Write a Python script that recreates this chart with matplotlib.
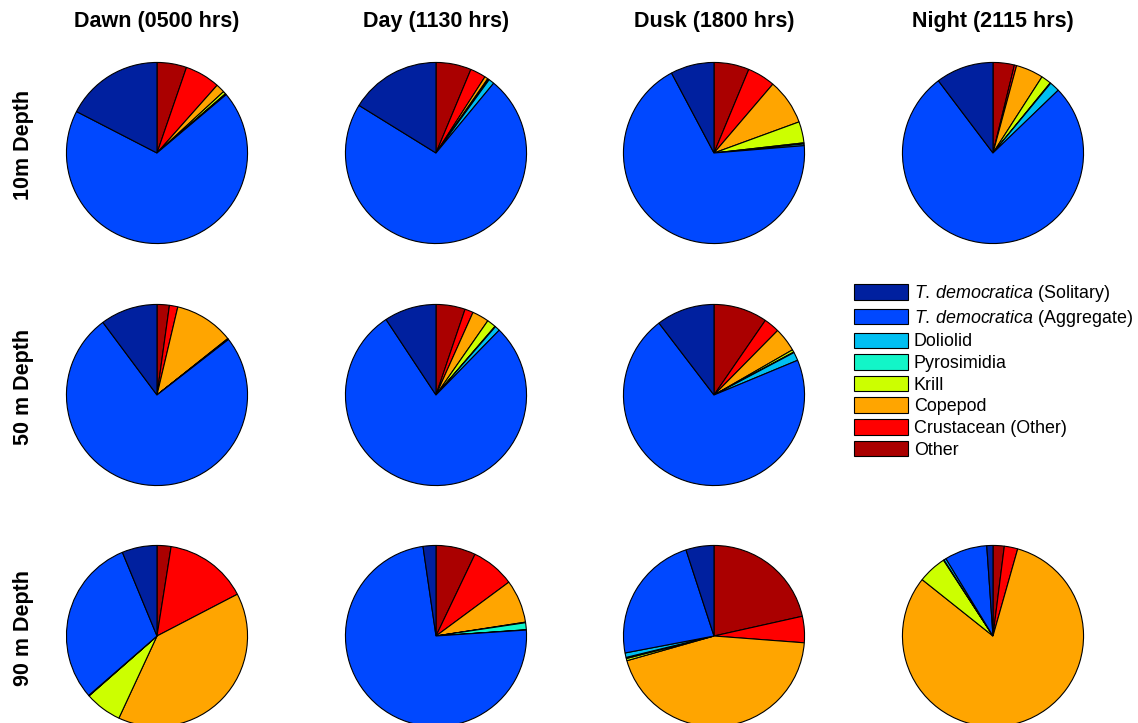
import matplotlib.pyplot as plt
from matplotlib.patches import Patch

plt.rcParams['font.family'] = ['Liberation Sans', 'DejaVu Sans']
plt.rcParams['mathtext.fontset'] = 'custom'
plt.rcParams['mathtext.it'] = 'Liberation Sans:italic'
plt.rcParams['mathtext.rm'] = 'Liberation Sans'

times = ['Dawn (0500 hrs)', 'Day (1130 hrs)', 'Dusk (1800 hrs)', 'Night (2115 hrs)']
depths = ['10m Depth', '50 m Depth', '90 m Depth']

# legend order (top to bottom)
groups = [r'$\it{T.\,democratica}$ (Solitary)', r'$\it{T.\,democratica}$ (Aggregate)',
          'Doliolid', 'Pyrosimidia', 'Krill', 'Copepod', 'Crustacean (Other)', 'Other']
colors = ['#00209f', '#0048ff', '#00bff2', '#12f5c8', '#ccff00', '#ffa500', '#ff0000', '#aa0000']

# percent of diet, in legend order: Solitary, Aggregate, Doliolid, Pyrosimidia, Krill, Copepod, Crustacean, Other
dawn_10 = [17.5, 69.0, 0.1, 0.1, 0.5, 1.6, 6.3, 5.3]
day_10 = [16.2, 72.9, 1.0, 0.1, 0.2, 0.6, 2.8, 6.3]
dusk_10 = [7.8, 68.8, 0.3, 0.2, 3.8, 8.2, 5.0, 6.3]
night_10 = [10.3, 76.9, 1.8, 0.1, 1.8, 4.9, 0.4, 3.8]

dawn_50 = [10.2, 75.4, 0.05, 0.05, 0.1, 10.6, 1.5, 2.2]
day_50 = [9.3, 78.4, 0.9, 0.1, 1.6, 3.0, 1.5, 5.2]
dusk_50 = [10.4, 70.9, 1.5, 0.1, 0.45, 4.3, 2.8, 9.6]

dawn_90 = [6.25, 30.2, 0.05, 0.05, 6.6, 39.6, 14.9, 2.5]
day_90 = [2.3, 73.9, 0.05, 1.25, 0.1, 7.7, 7.8, 7.1]
dusk_90 = [5.0, 23.0, 0.8, 0.2, 0.4, 44.4, 4.7, 21.5]
night_90 = [1.1, 7.6, 0.4, 0.1, 5.1, 81.3, 2.4, 2.0]

panels = [[dawn_10, day_10, dusk_10, night_10],
          [dawn_50, day_50, dusk_50, None],
          [dawn_90, day_90, dusk_90, night_90]]

W, H = 1138, 723
fig = plt.figure(figsize=(W / 100, H / 100), dpi=100)

cx = [157, 436, 714, 993]
cy = [153, 395, 636]
r = 91

for i, row in enumerate(panels):
    for j, vals in enumerate(row):
        if vals is None:
            continue
        ax = fig.add_axes([(cx[j] - r) / W, 1 - (cy[i] + r) / H, 2 * r / W, 2 * r / H])
        # wedges run clockwise from 12 o'clock: Other first, Solitary last
        ax.pie(vals[::-1], colors=colors[::-1], startangle=90, counterclock=False,
               wedgeprops=dict(edgecolor='black', linewidth=0.8))
        ax.set_xlim(-1.005, 1.005)
        ax.set_ylim(-1.005, 1.005)
        ax.set_aspect('equal')
        ax.axis('off')

for j, t in enumerate(times):
    fig.text(cx[j] / W, 1 - 22 / H, t, ha='center', va='center', fontsize=15.5, fontweight='bold')
for i, d in enumerate(depths):
    fig.text(23 / W, 1 - (cy[i] - 8) / H, d, ha='center', va='center', rotation=90,
             fontsize=15.5, fontweight='bold')

handles = [Patch(facecolor=c, edgecolor='black', linewidth=0.8) for c in colors]
fig.legend(handles, groups, loc='upper left', bbox_to_anchor=(854 / W, 1 - 283 / H),
           frameon=False, fontsize=12.9, handlelength=3.0, handleheight=0.95,
           handletextpad=0.33, labelspacing=0.21, borderaxespad=0, borderpad=0)

fig.savefig('out.png', dpi=100)
